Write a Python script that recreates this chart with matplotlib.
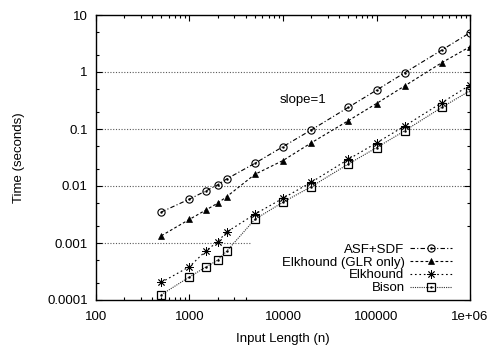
import matplotlib
matplotlib.use("Agg")
import matplotlib.pyplot as plt
from matplotlib.patches import Rectangle
from matplotlib.ticker import FixedLocator, NullFormatter

plt.rcParams['font.family'] = ['Liberation Sans', 'DejaVu Sans']
plt.rcParams['font.size'] = 9.5

# input lengths and timings (seconds)
n = [500, 1000, 1500, 2000, 2500, 5000, 10000, 20000, 50000, 100000, 200000, 500000, 1000000]
asf_sdf = [0.0035, 0.0059, 0.0082, 0.0105, 0.0133, 0.025, 0.049, 0.096, 0.24, 0.48, 0.97, 2.43, 4.9]
elk_glr = [0.00134, 0.0026, 0.0038, 0.0050, 0.0065, 0.016, 0.028, 0.057, 0.14, 0.28, 0.57, 1.46, 2.78]
elkhound = [0.000204, 0.000385, 0.00073, 0.00105, 0.00156, 0.0032, 0.0061, 0.0116, 0.0294, 0.057, 0.113, 0.29, 0.59]
bison = [0.000124, 0.000254, 0.00038, 0.0005, 0.00072, 0.0026, 0.0052, 0.0097, 0.0243, 0.047, 0.093, 0.24, 0.47]

labels = ["ASF+SDF", "Elkhound (GLR only)", "Elkhound", "Bison"]
xticks = [100, 1000, 10000, 100000, 1000000]
xtick_labels = ["100", "1000", "10000", "100000", "1e+06"]
yticks = [0.0001, 0.001, 0.01, 0.1, 1, 10]
ytick_labels = ["0.0001", "0.001", "0.01", "0.1", "1", "10"]
grid_y = [0.001, 0.01, 0.1, 1]

fig = plt.figure(figsize=(4.96, 3.47), dpi=100)
ax = fig.add_axes([96/496, 1 - 300/347, 374/496, 285/347])
ax.set_xscale('log')
ax.set_yscale('log')
ax.set_xlim(100, 1e6)
ax.set_ylim(1e-4, 10)

for g in grid_y:
    ax.axhline(g, color='0.35', lw=0.8, dashes=(1, 1.5), zorder=1)

# key area hides the grid, like gnuplot
ax.add_patch(Rectangle((0.414, 0), 0.586, 0.225, transform=ax.transAxes,
                       facecolor='white', edgecolor='none', zorder=2))

lw = 0.8
l1, = ax.plot(n, asf_sdf, color='black', lw=lw, dashes=(4, 2, 1, 2),
              marker='o', ms=5.2, mfc='none', mew=0.8, zorder=3)
d1, = ax.plot(n, asf_sdf, ls='none', marker='.', ms=1.5, color='black', zorder=4)
l2, = ax.plot(n, elk_glr, color='black', lw=lw, dashes=(2.5, 2),
              marker='^', ms=4.5, mew=0.5, zorder=3)
l3, = ax.plot(n, elkhound, color='black', lw=lw, dashes=(1.5, 2.5),
              marker=(8, 2, 0), ms=6, mew=0.6, zorder=3)
l4, = ax.plot(n, bison, color='0.2', lw=lw, dashes=(1, 1),
              marker='s', ms=5.2, mfc='none', mec='black', mew=0.9, zorder=3)
d4, = ax.plot(n, bison, ls='none', marker='.', ms=1.5, color='black', zorder=4)

ax.text(9300, 0.32, "slope=1", ha='left', va='center', fontsize=9.5)

leg = ax.legend([(l1, d1), l2, l3, (l4, d4)], labels, loc='lower right',
                bbox_to_anchor=(0.952, 0.02), frameon=False, markerfirst=False,
                numpoints=1, handlelength=3.2, handletextpad=0.4,
                labelspacing=0.05, borderpad=0, borderaxespad=0, fontsize=9.5)
for t in leg.get_texts():
    t.set_ha('right')

ax.xaxis.set_major_locator(FixedLocator(xticks))
ax.set_xticklabels(xtick_labels)
ax.xaxis.set_minor_locator(FixedLocator([m * 10 ** e for e in range(2, 6) for m in range(2, 10)]))
ax.xaxis.set_minor_formatter(NullFormatter())
ax.yaxis.set_major_locator(FixedLocator(yticks))
ax.set_yticklabels(ytick_labels)
ax.yaxis.set_minor_locator(FixedLocator([m * 10.0 ** e for e in range(-4, 1) for m in (2, 5)]))
ax.yaxis.set_minor_formatter(NullFormatter())

ax.tick_params(which='both', direction='in', top=True, right=True, width=0.8)
ax.tick_params(which='major', length=4.5, pad=6)
ax.tick_params(axis='x', which='major', pad=8)
ax.tick_params(which='minor', length=2.5)
for s in ax.spines.values():
    s.set_linewidth(1.0)

ax.set_xlabel("Input Length (n)", labelpad=7)
ax.set_ylabel("Time (seconds)", labelpad=16)

fig.savefig("out.png", dpi=100)
